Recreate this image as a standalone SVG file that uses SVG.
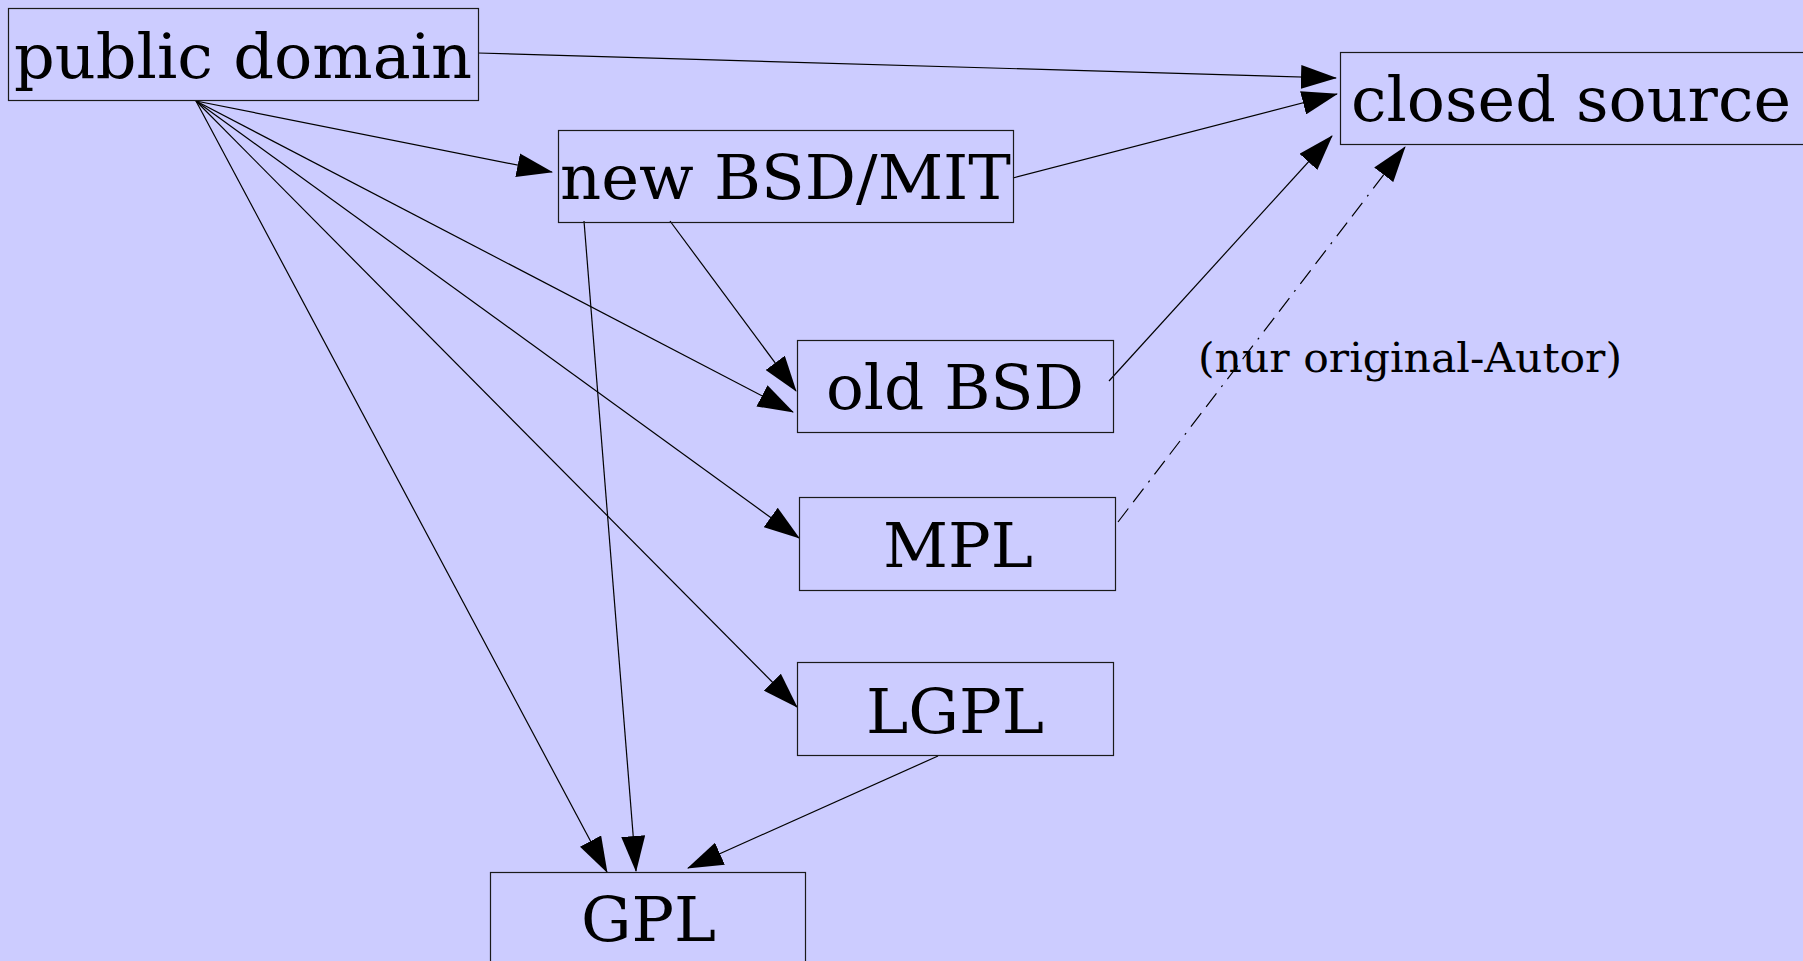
<svg xmlns="http://www.w3.org/2000/svg" width="1803" height="961" viewBox="0 0 1803 961">
<style>
.box{fill:none;stroke:#1a1a1a;stroke-width:1.2}
.t{font-family:"DejaVu Serif","Liberation Serif",serif;font-size:62px;fill:#000}
.lbl{font-family:"DejaVu Serif","Liberation Serif",serif;font-size:41px;fill:#000}
.c{fill:none;stroke:#000;stroke-width:1.2;marker-end:url(#ah)}
.d{stroke-dasharray:17 8 17 8 2 8}
</style>
<defs>
<marker id="ah" markerUnits="userSpaceOnUse" markerWidth="36" markerHeight="24" viewBox="0 0 36 24" refX="35" refY="12" orient="auto">
<path d="M0,0 L36,12 L0,24 z" fill="#000"/>
</marker>
</defs>
<rect width="1803" height="961" fill="#ccccff"/>
<g id="connectors">
<path class="c" d="M478,53 L1336,78"/>
<path class="c" d="M196,101 L552,172"/>
<path class="c" d="M196,101 L793,412"/>
<path class="c" d="M196,101 L799,538"/>
<path class="c" d="M196,101 L797,707"/>
<path class="c" d="M196,101 L607,872"/>
<path class="c" d="M1013,178 L1337,94"/>
<path class="c" d="M670,221 L796,391"/>
<path class="c" d="M584,221 L636,871"/>
<path class="c" d="M1109,381 L1332,136"/>
<path class="c d" d="M1118,522 L1405,147"/>
<path class="c" d="M938,756 L688,868"/>
</g>
<g id="public-domain">
<rect class="box" x="8.5" y="8.5" width="470" height="92"/>
<text class="t" x="14" y="78" textLength="458" lengthAdjust="spacingAndGlyphs">public domain</text>
</g>
<g id="closed-source">
<rect class="box" x="1340.5" y="52.5" width="470" height="92"/>
<text class="t" x="1351" y="121" textLength="440" lengthAdjust="spacingAndGlyphs">closed source</text>
</g>
<g id="new-bsd-mit">
<rect class="box" x="558.5" y="130.5" width="455" height="92"/>
<text class="t" x="560" y="199" textLength="451" lengthAdjust="spacingAndGlyphs">new BSD/MIT</text>
</g>
<g id="old-bsd">
<rect class="box" x="797.5" y="340.5" width="316" height="92"/>
<text class="t" x="826" y="409" textLength="258" lengthAdjust="spacingAndGlyphs">old BSD</text>
</g>
<g id="mpl">
<rect class="box" x="799.5" y="497.5" width="316" height="93"/>
<text class="t" x="883" y="567" textLength="150" lengthAdjust="spacingAndGlyphs">MPL</text>
</g>
<g id="lgpl">
<rect class="box" x="797.5" y="662.5" width="316" height="93"/>
<text class="t" x="866" y="733" textLength="178" lengthAdjust="spacingAndGlyphs">LGPL</text>
</g>
<g id="gpl">
<rect class="box" x="490.5" y="872.5" width="315" height="100"/>
<text class="t" x="581" y="941" textLength="135" lengthAdjust="spacingAndGlyphs">GPL</text>
</g>
<g id="label">
<text class="lbl" x="1198" y="372" textLength="424" lengthAdjust="spacingAndGlyphs">(nur original-Autor)</text>
</g>
</svg>
